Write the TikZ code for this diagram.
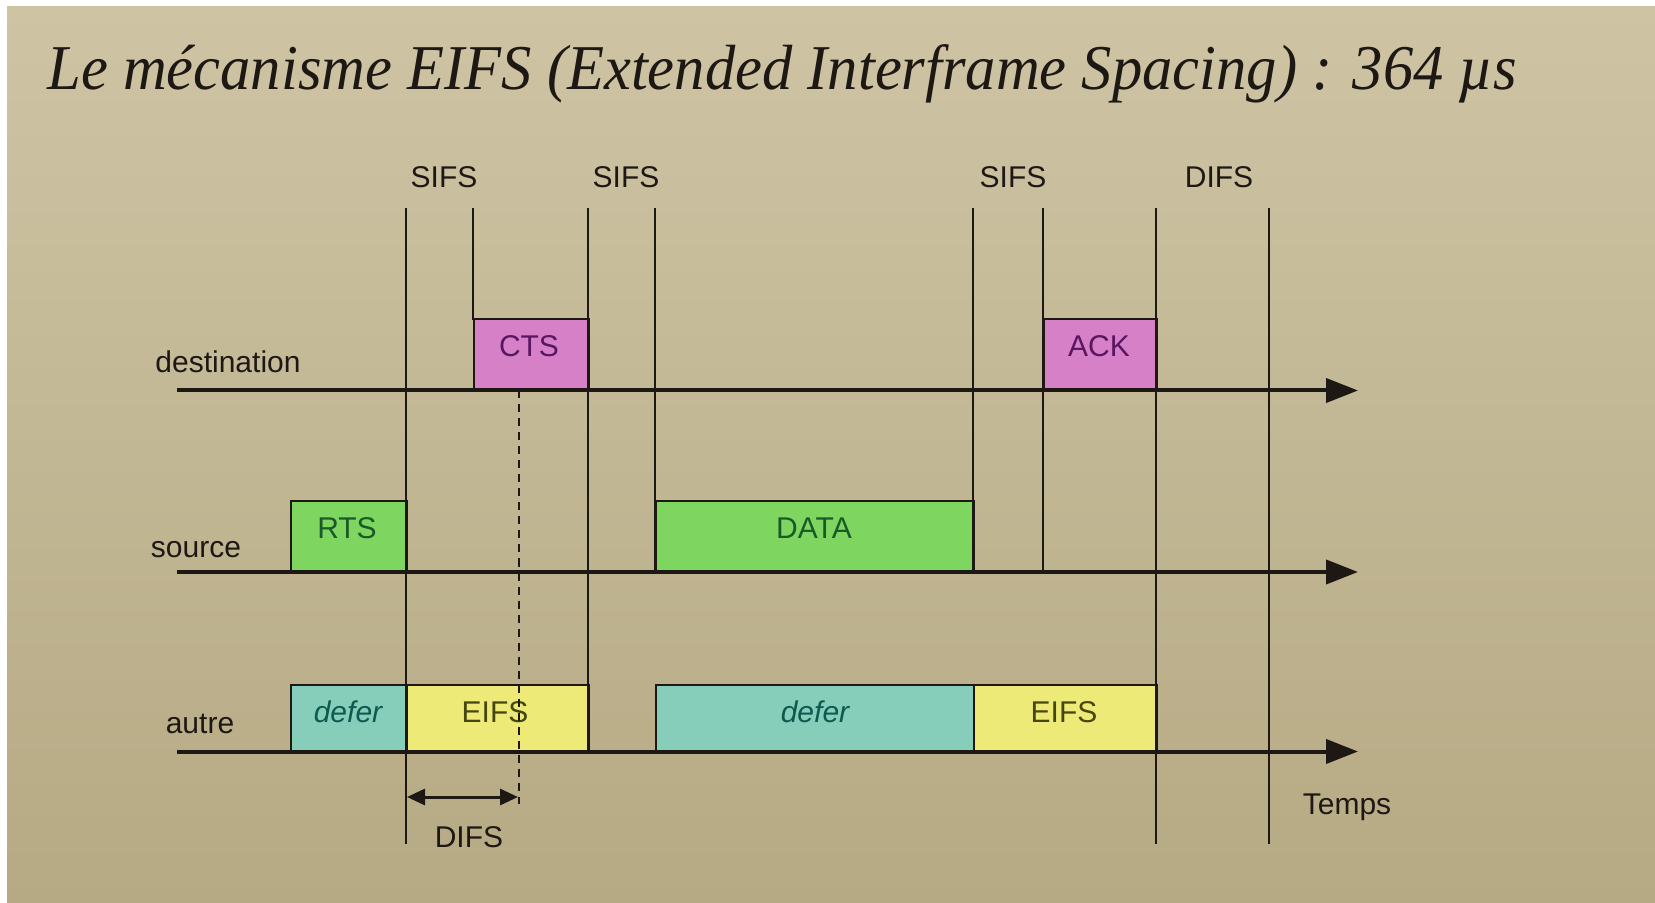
\documentclass[tikz,border=0pt]{standalone}
\usepackage{fontspec}
\setmainfont{Liberation Sans}
\newfontfamily\titlefont{Liberation Serif}
\usetikzlibrary{arrows.meta}
\definecolor{bgtop}{RGB}{206,196,164}
\definecolor{bgbot}{RGB}{182,170,132}
\definecolor{ink}{RGB}{30,24,20}
\definecolor{magfill}{RGB}{214,128,200}
\definecolor{magtext}{RGB}{90,22,96}
\definecolor{grnfill}{RGB}{126,214,96}
\definecolor{grntext}{RGB}{25,90,40}
\definecolor{tealfill}{RGB}{134,206,186}
\definecolor{tealtext}{RGB}{12,90,80}
\definecolor{yelfill}{RGB}{238,234,120}
\definecolor{yeltext}{RGB}{70,70,16}
\begin{document}
\begin{tikzpicture}[x=0.5pt,y=-0.5pt,
  frame/.style={draw=ink,line width=1pt,inner sep=0pt,anchor=south west},
  txt/.style={font=\fontsize{15}{18}\selectfont,text=ink,inner sep=0pt},
  btxt/.style={font=\fontsize{15}{18}\selectfont,inner sep=0pt},
  vline/.style={draw=ink,line width=1pt},
  timeaxis/.style={draw=ink,line width=2pt,-{Triangle[length=16pt,width=12pt]}},
  dashline/.style={draw=ink,line width=0.8pt,dash pattern=on 4pt off 3pt},
  difsarrow/.style={draw=ink,line width=1.5pt,{Triangle[length=9pt,width=8pt]}-{Triangle[length=9pt,width=8pt]}}]
\useasboundingbox (0,0) rectangle (1655,903);
\fill[white] (0,0) rectangle (1655,903);
\shade[top color=bgtop,bottom color=bgbot] (7,7) rectangle (1655,903);
% title
\node[anchor=base west,inner sep=0pt,text=ink] (title) at (47,90)
  {\scalebox{0.977}[1.03]{\titlefont\itshape\fontsize{31}{36}\selectfont Le mécanisme EIFS (Extended Interframe Spacing) : 364 µs}};
% boxes
\node[frame,fill=magfill,minimum width=57.5pt,minimum height=35.25pt] (cts) at (473,390.5) {};
\node[frame,fill=magfill,minimum width=56.5pt,minimum height=35.25pt] (ack) at (1043,390.5) {};
\node[frame,fill=grnfill,minimum width=58pt,minimum height=35pt] (rts) at (290,572) {};
\node[frame,fill=grnfill,minimum width=159pt,minimum height=35pt] (data) at (655,572) {};
\node[frame,fill=tealfill,minimum width=58pt,minimum height=32.75pt] (def1) at (290,751.5) {};
\node[frame,fill=yelfill,minimum width=91pt,minimum height=32.75pt] (eifs1) at (406,751.5) {};
\node[frame,fill=tealfill,minimum width=159pt,minimum height=32.75pt] (def2) at (655,751.5) {};
\node[frame,fill=yelfill,minimum width=91.5pt,minimum height=32.75pt] (eifs2) at (973,751.5) {};
% box texts
\node[btxt,text=magtext] (tcts) at (529,346) {CTS};
\node[btxt,text=magtext] (tack) at (1099,346) {ACK};
\node[btxt,text=grntext] (trts) at (347,528) {RTS};
\node[btxt,text=grntext] (tdata) at (814,528) {DATA};
\node[btxt,text=tealtext] (tdef1) at (348,712) {\itshape defer};
\node[btxt,text=yeltext] (teifs1) at (495,712) {EIFS};
\node[btxt,text=tealtext] (tdef2) at (815,712) {\itshape defer};
\node[btxt,text=yeltext] (teifs2) at (1064,712) {EIFS};
% coordinates for lines
\coordinate (t1) at (406,208); \coordinate (b1) at (406,844);
\coordinate (t2) at (473,208); \coordinate (b2) at (473,320);
\coordinate (t3) at (588,208); \coordinate (b3) at (588,751.5);
\coordinate (t4) at (655,208); \coordinate (b4) at (655,572);
\coordinate (t5) at (973,208); \coordinate (b5) at (973,572);
\coordinate (t6) at (1043,208); \coordinate (b6) at (1043,572);
\coordinate (t7) at (1156,208); \coordinate (b7) at (1156,844);
\coordinate (t8) at (1269,208); \coordinate (b8) at (1269,844);
\foreach \i in {1,...,8} {\draw[vline] (t\i) -- (b\i);}
% dashed line and DIFS arrow
\coordinate (dtop) at (519,390.5); \coordinate (dbot) at (519,804);
\draw[dashline] (dtop) -- (dbot);
\coordinate (al) at (407,797); \coordinate (ar) at (518,797);
\draw[difsarrow] (al) -- (ar);
% axes
\coordinate (d0) at (177,390.5); \coordinate (d1) at (1358,390.5);
\coordinate (s0) at (177,572); \coordinate (s1) at (1358,572);
\coordinate (a0) at (177,751.5); \coordinate (a1) at (1358,751.5);
\draw[timeaxis] (d0) -- (d1);
\draw[timeaxis] (s0) -- (s1);
\draw[timeaxis] (a0) -- (a1);
% labels
\node[txt] (sifs1) at (444,177) {SIFS};
\node[txt] (sifs2) at (626,177) {SIFS};
\node[txt] (sifs3) at (1013,177) {SIFS};
\node[txt] (difs1) at (1219,177) {DIFS};
\node[txt] (ldest) at (228,362) {destination};
\node[txt] (lsrc) at (196,550) {source};
\node[txt] (laut) at (200,724) {autre};
\node[txt] (ltemps) at (1347,807) {Temps};
\node[txt] (difs2) at (469,837) {DIFS};
\end{tikzpicture}
\end{document}
